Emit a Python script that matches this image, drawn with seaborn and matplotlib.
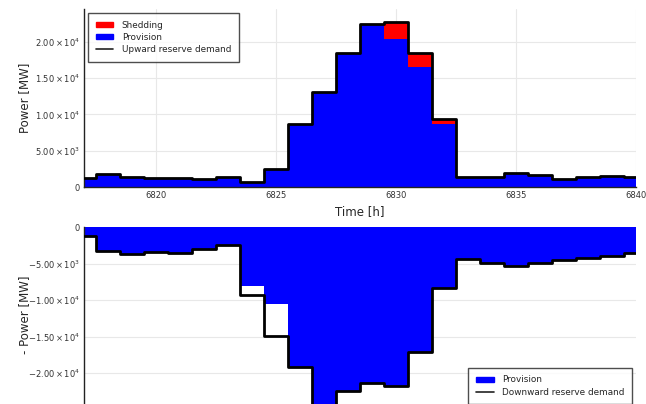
import numpy as np
import pandas as pd
import matplotlib
matplotlib.use("Agg")
import matplotlib.pyplot as plt
import seaborn as sns
from matplotlib.patches import Patch
from matplotlib.lines import Line2D

hours = list(range(6817, 6841))
up_provision = [1230, 1820, 1450, 1230, 1230, 1100, 1370, 770, 2470, 8720, 13030, 18380,
                22400, 20340, 16500, 8720, 1450, 1450, 1920, 1730, 1180, 1370, 1590, 1370]
up_shedding = [0, 0, 0, 0, 0, 0, 0, 0, 0, 0, 0, 0,
               0, 2290, 1880, 610, 0, 0, 0, 0, 0, 0, 0, 0]
up_demand = [p + s for p, s in zip(up_provision, up_shedding)]
down_demand = [1195, 3210, 3620, 3440, 3530, 2980, 2390, 9300, 14930, 19150, 25500, 22450,
               21350, 21800, 17130, 8380, 4350, 4950, 5320, 4860, 4450, 4170, 3940, 3530]
down_provision = [1195, 3210, 3620, 3440, 3530, 2980, 2390, 8100, 10580, 19150, 25500, 22450,
                  21350, 21800, 17130, 8380, 4350, 4950, 5320, 4860, 4450, 4170, 3940, 3530]

xticks = [6820, 6825, 6830, 6835, 6840]
up_yticks = [0, 5000, 10000, 15000, 20000]
up_yticklabels = ["0", r"$5.00\times10^{3}$", r"$1.00\times10^{4}$", r"$1.50\times10^{4}$", r"$2.00\times10^{4}$"]
down_yticks = [0, -5000, -10000, -15000, -20000]
down_yticklabels = ["0", r"$-5.00\times10^{3}$", r"$-1.00\times10^{4}$", r"$-1.50\times10^{4}$", r"$-2.00\times10^{4}$"]

sns.set_theme(style="white")
plt.rcParams['font.family'] = ['DejaVu Sans']
plt.rcParams['mathtext.fontset'] = 'dejavusans'

W, H = 646, 404
fig = plt.figure(figsize=(W / 100, H / 100), dpi=100)

def frac_box(left, right, top, bottom):
    return [left / W, (H - bottom) / H, (right - left) / W, (bottom - top) / H]

ax1 = fig.add_axes(frac_box(84, 636, 9, 187.3))
ax2 = fig.add_axes(frac_box(84, 636, 227.3, 409.3))

df_up = pd.DataFrame({"hour": hours, "provision": up_provision,
                      "shedding": up_shedding, "demand": up_demand})
df_down = pd.DataFrame({"hour": hours, "provision": [-v for v in down_provision],
                        "demand": [-v for v in down_demand]})

for ax in (ax1, ax2):
    ax.set_axisbelow(True)

# Top panel
ax1.bar(df_up["hour"], df_up["provision"], width=1.0, color="#0000ff", linewidth=0, zorder=2)
ax1.bar(df_up["hour"], df_up["shedding"], bottom=df_up["provision"], width=1.0,
        color="#ff0000", linewidth=0, zorder=2)
sns.lineplot(data=df_up, x="hour", y="demand", ax=ax1, color="black", linewidth=2.0,
             drawstyle="steps-mid", zorder=3, legend=False)
ax1.set_xlim(6817, 6840)
ax1.set_ylim(0, 24460)
ax1.set_xticks(xticks)
ax1.set_xticklabels([str(t) for t in xticks])
ax1.set_yticks(up_yticks)
ax1.set_yticklabels(up_yticklabels)
ax1.grid(True, color="#e8e8e8", linewidth=0.8)
ax1.set_xlabel("Time [h]", fontsize=8.5, labelpad=3)
ax1.set_ylabel("Power [MW]", fontsize=8.5)
ax1.yaxis.set_label_coords(-0.096, 0.5)

leg_kw = dict(fontsize=6.4, frameon=True, fancybox=False, edgecolor="#222222",
              handlelength=2.0, handleheight=0.55, handletextpad=0.95,
              borderpad=0.85, labelspacing=0.38, borderaxespad=0)
leg1 = ax1.legend(handles=[Patch(color="#ff0000", label="Shedding"),
                           Patch(color="#0000ff", label="Provision"),
                           Line2D([], [], color="#222222", lw=1.2, label="Upward reserve demand")],
                  loc="upper left", bbox_to_anchor=(4 / 552, 1 - 4 / 178.3), **leg_kw)
leg1.get_frame().set_linewidth(1.0)

# Bottom panel
ax2.bar(df_down["hour"], df_down["provision"], width=1.0, color="#0000ff", linewidth=0, zorder=2)
sns.lineplot(data=df_down, x="hour", y="demand", ax=ax2, color="black", linewidth=2.0,
             drawstyle="steps-mid", zorder=3, legend=False)
ax2.set_xlim(6817, 6840)
ax2.set_ylim(-25000, 0)
ax2.set_xticks(xticks)
ax2.set_xticklabels([])
ax2.set_yticks(down_yticks)
ax2.set_yticklabels(down_yticklabels)
ax2.grid(True, axis="y", color="#e8e8e8", linewidth=0.8)
ax2.set_xlabel("")
ax2.set_ylabel("- Power [MW]", fontsize=8.5)
ax2.yaxis.set_label_coords(-0.096, 0.5 + 0.02)

leg2 = ax2.legend(handles=[Patch(color="#0000ff", label="Provision"),
                           Line2D([], [], color="#222222", lw=1.2, label="Downward reserve demand")],
                  loc="lower right", bbox_to_anchor=(1 - 4 / 552, 5 / 182), **leg_kw)
leg2.get_frame().set_linewidth(1.0)

for ax in (ax1, ax2):
    ax.tick_params(axis="both", labelsize=6, colors="#333333", length=0, pad=3)
    for side in ("top", "right"):
        ax.spines[side].set_visible(False)
    for side in ("left", "bottom"):
        ax.spines[side].set_color("#222222")
        ax.spines[side].set_linewidth(1.0)

fig.savefig("out.png", dpi=100)
